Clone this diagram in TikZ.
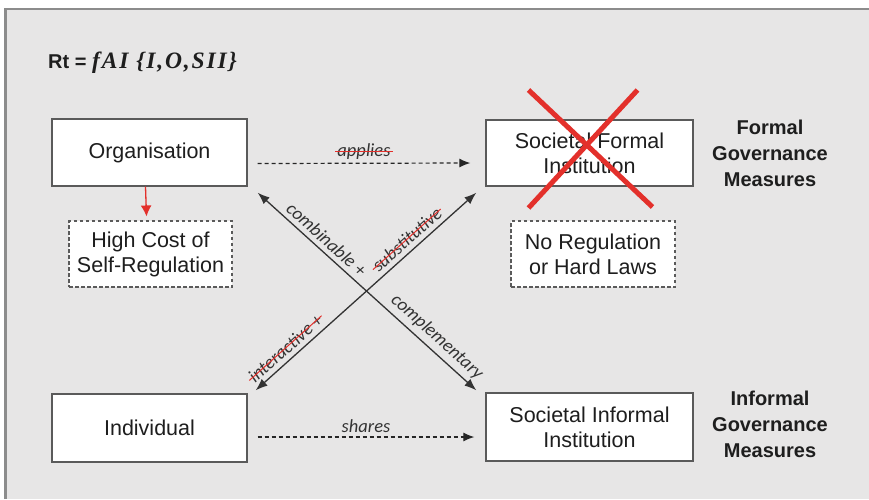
\documentclass[tikz,border=0pt]{standalone}
\usepackage{fontspec}
\setmainfont{Liberation Sans}
\newfontfamily\calfont{Carlito}
\newfontfamily\formulafont[LetterSpace=8]{Liberation Serif}
\usetikzlibrary{arrows.meta}

\definecolor{panelgray}{HTML}{E7E6E6}
\definecolor{framegray}{HTML}{8C8C8C}
\definecolor{boxline}{HTML}{5A5A5A}
\definecolor{crossred}{HTML}{E3302B}
\definecolor{textdark}{HTML}{1E1E1E}

\begin{document}
\begin{tikzpicture}[
    x=1pt, y=-1pt,
    % Common Styles
    box/.style={
        draw=boxline,
        line width=1.3pt,
        fill=white,
        align=center,
        inner sep=0pt,
        text=textdark,
        font=\fontsize{21.5}{25}\selectfont
    },
    dash_box/.style={
        box,
        line width=1.1pt,
        dash pattern=on 3.5pt off 2.5pt
    },
    link_arrow/.style={
        black!85,
        line width=1.2pt,
        dash pattern=on 4pt off 3pt,
        -{Latex[length=11pt, width=9pt]}
    },
    cross_arrow/.style={
        black!80,
        line width=1.3pt,
        {Latex[length=12pt, width=9pt]}-{Latex[length=12pt, width=9pt]}
    },
    cost_arrow/.style={
        crossred,
        line width=1.3pt,
        -{Latex[length=11pt, width=11pt]}
    },
    rel_text/.style={
        font=\calfont\itshape\fontsize{18.5}{20}\selectfont,
        text=black!80,
        inner sep=1.5pt
    },
    side_text/.style={
        font=\bfseries\fontsize{20}{26}\selectfont,
        text=textdark,
        align=center
    },
    strike_line/.style={
        crossred,
        line width=1pt
    },
    cross_line/.style={
        crossred,
        line width=5pt
    }
]

    % ================= PANEL =================
    \useasboundingbox (0,0) rectangle (869,499);
    \fill[panelgray] (5,8) rectangle (869,499);
    \draw[framegray, line width=2.5pt] (5.5,499) -- (5.5,9) -- (869,9);

    % Formula
    \node[anchor=west, inner sep=0pt, text=textdark] (formula) at (48,63)
        {\bfseries\fontsize{20}{24}\selectfont Rt = {\formulafont\bfseries\itshape\fontsize{23.5}{24}\selectfont fAI \{I,O,SII\}}};

    % ================= BOXES =================
    % Top row
    \node[box, minimum width=195, minimum height=67] (org) at (149.5,152.5) {Organisation};
    \node[box, minimum width=207, minimum height=66] (formal) at (589.5,153) {Societal Formal\\Institution};

    % Middle row (dashed)
    \node[dash_box, minimum width=163, minimum height=66] (cost) at (150.5,254) {High Cost of\\Self-Regulation};
    \node[dash_box, minimum width=164, minimum height=66] (noreg) at (593,254) {No Regulation\\or Hard Laws};

    % Bottom row
    \node[box, minimum width=195, minimum height=68] (indiv) at (149.5,428) {Individual};
    \node[box, minimum width=207, minimum height=68] (informal) at (589.5,427) {Societal Informal\\Institution};

    % Side labels
    \node[side_text] (formal_gov) at (770,153) {Formal\\Governance\\Measures};
    \node[side_text] (informal_gov) at (770,424) {Informal\\Governance\\Measures};

    % ================= CONNECTORS =================
    % End points of the crossing arrows
    \coordinate (tl) at ([shift={(10pt,-6pt)}]org.south east);
    \coordinate (tr) at ([shift={(-9pt,-6pt)}]formal.south west);
    \coordinate (bl) at ([shift={(8pt,3pt)}]indiv.north east);
    \coordinate (br) at ([shift={(-9pt,2pt)}]informal.north west);

    % Horizontal dashed links
    \draw[link_arrow] ([shift={(10pt,-11pt)}]org.east) --
        node[rel_text, above=2pt] (applies) {applies}
        ([shift={(-15pt,-10pt)}]formal.west);
    \draw[link_arrow] ([shift={(10pt,-9pt)}]indiv.east) --
        node[rel_text, above=2pt] (shares) {shares}
        ([shift={(-11pt,-10pt)}]informal.west);

    % Crossing arrows
    \draw[cross_arrow] (tl) --
        node[rel_text, sloped, above=3pt, pos=0.28] (combine) {combinable +}
        node[rel_text, sloped, above=3pt, pos=0.78] (complement) {complementary}
        (br);
    \draw[cross_arrow] (bl) --
        node[rel_text, sloped, above=3pt, pos=0.17] (interact) {interactive +}
        node[rel_text, sloped, above=3pt, pos=0.72] (substitute) {substitutive}
        (tr);

    % Cost of self-regulation
    \draw[cost_arrow] ([xshift=-4pt]org.south) -- ([shift={(-4pt,4pt)}]cost.north);

    % Struck out relations
    \draw[strike_line] (applies.west) -- (applies.east);
    \draw[strike_line] (interact.west) -- (interact.east);
    \draw[strike_line] (substitute.west) -- (substitute.east);

    % Red cross over the formal institution
    \coordinate (x1) at ([shift={(-61pt,63pt)}]formal.center);
    \coordinate (x2) at ([shift={(63pt,-54pt)}]formal.center);
    \coordinate (x3) at ([shift={(48pt,63pt)}]formal.center);
    \coordinate (x4) at ([shift={(-61pt,-55pt)}]formal.center);
    \draw[cross_line] (x1) -- (x2);
    \draw[cross_line] (x3) -- (x4);

\end{tikzpicture}
\end{document}
